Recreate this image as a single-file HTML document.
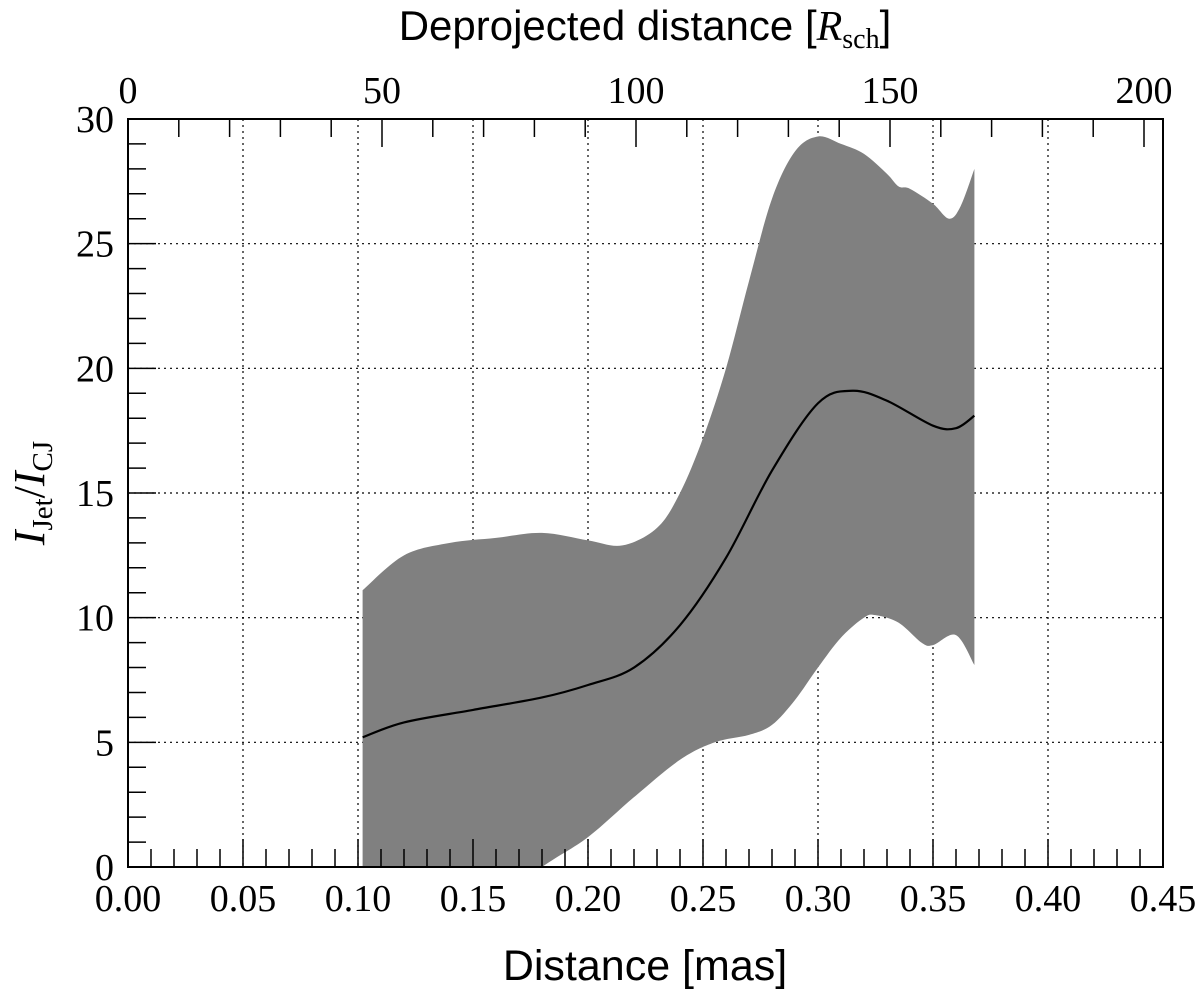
<!DOCTYPE html>
<html><head><meta charset="utf-8"><style>
body{margin:0;background:#fff;}
svg text{font-family:"Liberation Serif",serif;fill:#000;}
</style></head><body>
<svg id="chart" width="1200" height="992" xmlns="http://www.w3.org/2000/svg">
<defs><clipPath id="clip"><rect x="128" y="119" width="1035" height="748"/></clipPath></defs>
<g id="grid"></g>
<g id="band" clip-path="url(#clip)"></g>
<g id="ticks"></g>
<rect x="128" y="119" width="1035" height="748" fill="none" stroke="#000" stroke-width="2"/>
<text x="645" y="980" text-anchor="middle" style="font-family:'Liberation Sans',sans-serif;font-size:43px">Distance [mas]</text>
<text x="645" y="40" text-anchor="middle" style="font-family:'Liberation Sans',sans-serif;font-size:42px">Deprojected distance [<tspan font-family="Liberation Serif" font-style="italic">R</tspan><tspan font-family="Liberation Serif" font-size="28" dy="8">sch</tspan><tspan dy="-8">]</tspan></text>
<text transform="translate(44,493) rotate(-90)" text-anchor="middle" style="font-size:44px"><tspan font-style="italic">I</tspan><tspan font-size="29" dy="8">Jet</tspan><tspan dy="-8">/</tspan><tspan font-style="italic">I</tspan><tspan font-size="29" dy="8">CJ</tspan></text>
</svg>
<script>
const xTicks=[0,0.05,0.10,0.15,0.20,0.25,0.30,0.35,0.40,0.45];
const yTicks=[0,5,10,15,20,25,30];
const topTicks=[0,50,100,150,200];
const lineX=[0.102,0.12,0.15,0.18,0.20,0.22,0.24,0.26,0.28,0.30,0.315,0.33,0.35,0.36,0.368];
const lineY=[5.2,5.8,6.3,6.8,7.3,8.0,9.7,12.4,15.9,18.6,19.1,18.7,17.7,17.6,18.1];
const upX=[0.102,0.12,0.14,0.16,0.18,0.20,0.215,0.23,0.24,0.25,0.26,0.27,0.28,0.29,0.30,0.31,0.32,0.33,0.335,0.34,0.35,0.357,0.362,0.368];
const upY=[11.1,12.5,13.0,13.2,13.4,13.1,12.9,13.6,15.0,17.2,20.0,23.5,26.8,28.7,29.3,29.0,28.6,27.8,27.3,27.2,26.6,26.0,26.5,28.0];
const loX=[0.102,0.15,0.18,0.20,0.22,0.24,0.255,0.27,0.28,0.29,0.30,0.31,0.32,0.325,0.335,0.345,0.35,0.36,0.368];
const loY=[-5,-2,0,1.2,2.8,4.3,5.0,5.3,5.7,6.7,8.0,9.2,10.0,10.1,9.8,9.0,8.9,9.3,8.1];
const L=128,R=1163,T=119,B=867;
const sx=v=>L+v/0.45*(R-L);
const sy=v=>B-v/30*(B-T);
const st=v=>L+v*254/50;
const NS='http://www.w3.org/2000/svg';
function mk(tag,attrs,parent){const e=document.createElementNS(NS,tag);for(const k in attrs)e.setAttribute(k,attrs[k]);parent.appendChild(e);return e;}
const grid=document.getElementById('grid'),ticks=document.getElementById('ticks'),band=document.getElementById('band');
xTicks.forEach(v=>{
  const g=mk('line',{x1:sx(v),x2:sx(v),y1:T,y2:B,stroke:'#000','stroke-width':1.2,'stroke-dasharray':'2,4'},grid);
  
  
  const t=mk('text',{x:sx(v),y:911,'text-anchor':'middle','font-size':38},ticks);
  t.textContent=v.toFixed(2);
  
  
});
for(let i=0;i<=45;i++){const x=sx(i*0.01);const len=i%5===0?28:18;
  const l=mk('line',{x1:x,x2:x,y1:B,y2:B-len,stroke:'#000','stroke-width':1.5},ticks);
  
  }
yTicks.forEach(v=>{
  const g=mk('line',{x1:L,x2:R,y1:sy(v),y2:sy(v),stroke:'#000','stroke-width':1.2,'stroke-dasharray':'2,4'},grid);
  
  
  const t=mk('text',{x:114,y:sy(v)+13,'text-anchor':'end','font-size':38},ticks);
  t.textContent=v;
  
  
});
for(let i=0;i<=30;i++){const y=sy(i);const len=i%5===0?28:18;
  const l=mk('line',{x1:L,x2:L+len,y1:y,y2:y,stroke:'#000','stroke-width':1.5},ticks);
  
  }
topTicks.forEach(v=>{
  const t=mk('text',{x:st(v),y:103,'text-anchor':'middle','font-size':38},ticks);
  t.textContent=v;
  
  
});
for(let i=0;i<=20;i++){const x=st(i*10);if(x>R)break;const len=i%5===0?28:18;
  const l=mk('line',{x1:x,x2:x,y1:T,y2:T+len,stroke:'#000','stroke-width':1.5},ticks);
  
  }
function smooth(xs,ys){
  const p=xs.map((x,i)=>[sx(x),sy(ys[i])]);let d='';
  for(let i=0;i<p.length;i++){
    if(i===0){d+='M'+p[0][0]+','+p[0][1];continue;}
    const p0=p[Math.max(i-2,0)],p1=p[i-1],p2=p[i],p3=p[Math.min(i+1,p.length-1)];
    const c1=[p1[0]+(p2[0]-p0[0])/6,p1[1]+(p2[1]-p0[1])/6];
    const c2=[p2[0]-(p3[0]-p1[0])/6,p2[1]-(p3[1]-p1[1])/6];
    d+=' C'+c1[0]+','+c1[1]+' '+c2[0]+','+c2[1]+' '+p2[0]+','+p2[1];
  }return d;}
const up=smooth(upX,upY);
const lo=smooth(loX.slice().reverse(),loY.slice().reverse());
const bp=mk('path',{d:up+' L'+lo.slice(1)+' Z',fill:'#808080',stroke:'none'},band);


const lp=mk('path',{d:smooth(lineX,lineY),fill:'none',stroke:'#000','stroke-width':2.2},band);


</script>
</body></html>
